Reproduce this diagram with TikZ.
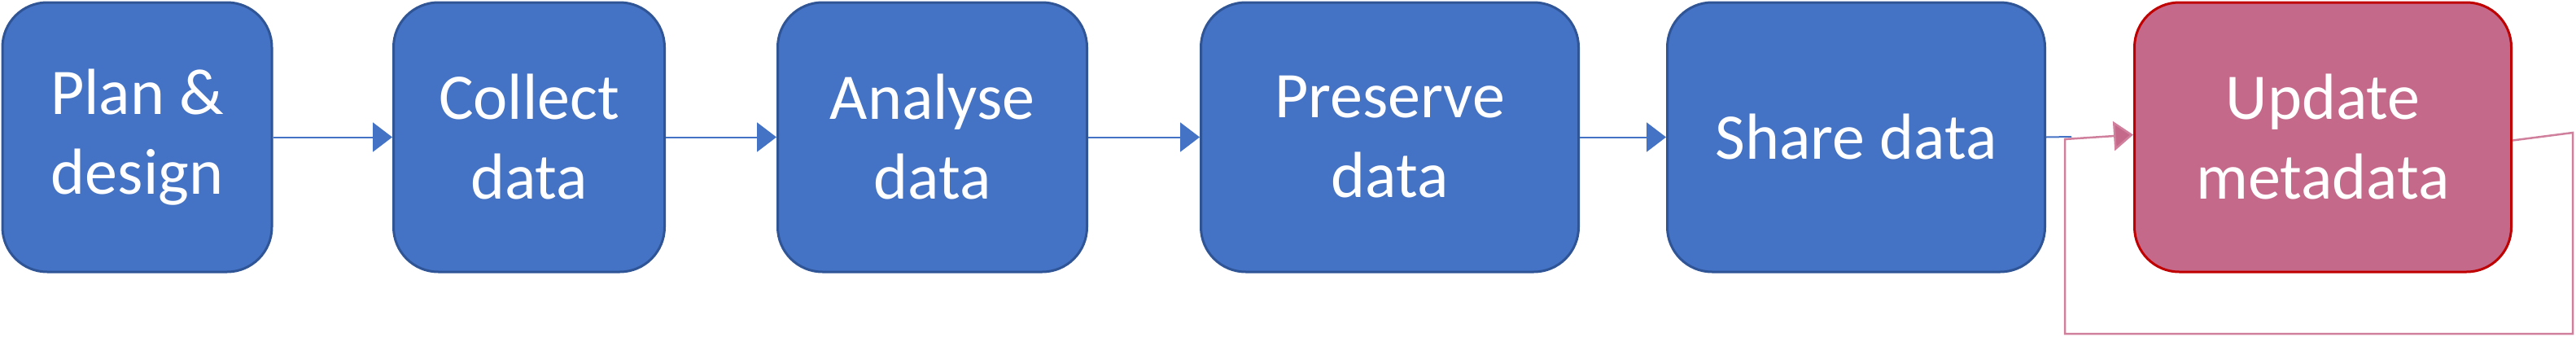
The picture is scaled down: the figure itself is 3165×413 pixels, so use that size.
\documentclass[tikz,border=0pt]{standalone}
\usepackage{fontspec}
\setmainfont{Carlito}
\usetikzlibrary{arrows.meta}
\definecolor{bfill}{HTML}{4472C4}
\definecolor{bdraw}{HTML}{2F5597}
\definecolor{rfill}{HTML}{C5698A}
\definecolor{rdraw}{HTML}{C00000}
\definecolor{loopc}{HTML}{D0809C}
\tikzset{
  box/.style={draw=bdraw, fill=bfill, line width=3pt, rounded corners=55pt, text=white,
    font=\fontsize{80}{98}\selectfont, align=center, inner sep=0pt, anchor=north west, minimum height=331pt},
  redbox/.style={box, draw=rdraw, fill=rfill},
  conn/.style={draw=bfill, line width=2pt, -{Triangle[length=24pt,width=36pt]}},
}
\begin{document}
\begin{tikzpicture}[x=1pt,y=-1pt]
\useasboundingbox (0,0) rectangle (3165,413);
\node[box, minimum width=331pt] (a) at (1.5,1.5) {Plan \&\\design};
\node[box, minimum width=333pt] (b) at (482,1.5) {Collect\\data};
\node[box, minimum width=380pt] (c) at (954,1.5) {Analyse\\data};
\node[box, minimum width=464pt] (d) at (1474,1.5) {Preserve\\data};
\node[box, minimum width=464pt] (e) at (2047,1.5) {Share data};
\node[redbox, minimum width=463pt] (f) at (2621,1.5) {Update\\metadata};
\draw[conn] (a.east) -- (b.west);
\draw[conn] (b.east) -- (c.west);
\draw[conn] (c.east) -- (d.west);
\draw[conn] (d.east) -- (e.west);
\coordinate (j) at (2545,168);
\draw[bfill, line width=2pt] (e.east) -- (j);
\coordinate (r1) at (3161,163);
\coordinate (r2) at (3161,410);
\coordinate (l1) at (2537,410);
\coordinate (l2) at (2537,171);
\draw[loopc, line width=2.5pt, -{Triangle[length=24pt,width=36pt,fill=rfill]}] ([yshift=-4pt]f.east) -- (r1) -- (r2) -- (l1) -- (l2) -- ([yshift=3pt]f.west);
\end{tikzpicture}
\end{document}
